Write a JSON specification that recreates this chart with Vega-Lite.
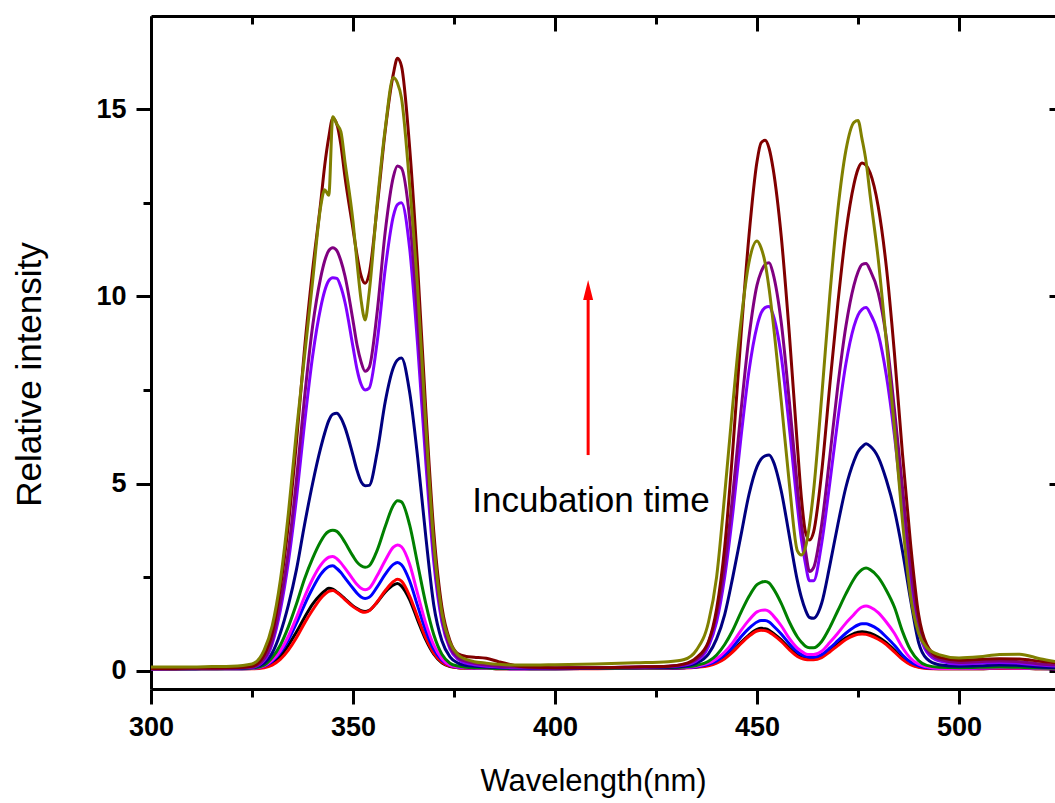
{
  "$schema": "https://vega.github.io/schema/vega-lite/v6.json",
  "width": 904,
  "height": 673,
  "autosize": {"type": "none"},
  "padding": {"left": 151, "top": 16, "right": 0, "bottom": 114},
  "background": "white",
  "config": {
    "view": {"stroke": null},
    "font": "Liberation Sans",
    "axis": {
      "domainColor": "black", "domainWidth": 3, "tickColor": "black", "tickWidth": 3,
      "grid": false, "labelFont": "Liberation Sans", "labelFontWeight": "bold",
      "labelFontSize": 27, "labelColor": "black", "titleFont": "Liberation Sans",
      "titleFontWeight": "normal", "titleColor": "black"
    }
  },
  "layer": [
    {
      "data": {"values": [
        {"w":300,"k":0.05,"r":0.04,"b":0.05,"m":0.05,"g":0.05,"n":0.05,"v":0.05,"p":0.05,"d":0.06,"o":0.1},
        {"w":305,"k":0.05,"r":0.04,"b":0.05,"m":0.05,"g":0.05,"n":0.05,"v":0.06,"p":0.06,"d":0.06,"o":0.1},
        {"w":310,"k":0.05,"r":0.05,"b":0.05,"m":0.05,"g":0.05,"n":0.05,"v":0.06,"p":0.06,"d":0.07,"o":0.1},
        {"w":315,"k":0.05,"r":0.05,"b":0.05,"m":0.05,"g":0.05,"n":0.06,"v":0.06,"p":0.06,"d":0.07,"o":0.11},
        {"w":320,"k":0.05,"r":0.05,"b":0.05,"m":0.06,"g":0.06,"n":0.06,"v":0.07,"p":0.07,"d":0.08,"o":0.12},
        {"w":325,"k":0.06,"r":0.05,"b":0.06,"m":0.06,"g":0.07,"n":0.08,"v":0.09,"p":0.1,"d":0.12,"o":0.18},
        {"w":328,"k":0.1,"r":0.08,"b":0.12,"m":0.13,"g":0.15,"n":0.2,"v":0.27,"p":0.32,"d":0.42,"o":0.55},
        {"w":330,"k":0.2,"r":0.15,"b":0.25,"m":0.28,"g":0.35,"n":0.47,"v":0.72,"p":0.82,"d":1.0,"o":1.2},
        {"w":332,"k":0.38,"r":0.3,"b":0.48,"m":0.53,"g":0.68,"n":1.0,"v":1.6,"p":1.8,"d":2.2,"o":2.4},
        {"w":334,"k":0.68,"r":0.55,"b":0.82,"m":0.92,"g":1.17,"n":1.75,"v":2.9,"p":3.2,"d":3.9,"o":4.2},
        {"w":336,"k":1.03,"r":0.88,"b":1.27,"m":1.42,"g":1.78,"n":2.7,"v":4.6,"p":5.1,"d":6.1,"o":6.4},
        {"w":338,"k":1.42,"r":1.27,"b":1.76,"m":1.97,"g":2.45,"n":3.9,"v":6.6,"p":7.3,"d":8.6,"o":8.4},
        {"w":340,"k":1.78,"r":1.62,"b":2.2,"m":2.45,"g":3.0,"n":5.0,"v":8.4,"p":9.2,"d":10.7,"o":10.4},
        {"w":342,"k":2.03,"r":1.93,"b":2.57,"m":2.82,"g":3.45,"n":5.95,"v":9.7,"p":10.5,"d":12.5,"o":12.4},
        {"w":343,"k":2.13,"r":2.04,"b":2.7,"m":2.95,"g":3.62,"n":6.35,"v":10.15,"p":10.95,"d":13.5,"o":12.85},
        {"w":344,"k":2.2,"r":2.12,"b":2.78,"m":3.03,"g":3.72,"n":6.68,"v":10.42,"p":11.22,"d":14.25,"o":12.7},
        {"w":345,"k":2.18,"r":2.14,"b":2.8,"m":3.05,"g":3.75,"n":6.85,"v":10.5,"p":11.3,"d":14.76,"o":14.8},
        {"w":346,"k":2.1,"r":2.09,"b":2.73,"m":2.99,"g":3.72,"n":6.88,"v":10.48,"p":11.22,"d":14.6,"o":14.6},
        {"w":347,"k":2.02,"r":2.0,"b":2.62,"m":2.88,"g":3.6,"n":6.75,"v":10.25,"p":10.95,"d":14.05,"o":14.4},
        {"w":348,"k":1.92,"r":1.9,"b":2.48,"m":2.74,"g":3.43,"n":6.5,"v":9.85,"p":10.55,"d":13.2,"o":13.6},
        {"w":350,"k":1.73,"r":1.71,"b":2.2,"m":2.44,"g":3.06,"n":5.75,"v":8.65,"p":9.35,"d":11.8,"o":12.0},
        {"w":351,"k":1.66,"r":1.64,"b":2.07,"m":2.3,"g":2.9,"n":5.35,"v":8.05,"p":8.7,"d":11.1,"o":10.9},
        {"w":352,"k":1.6,"r":1.58,"b":1.97,"m":2.2,"g":2.8,"n":5.05,"v":7.65,"p":8.25,"d":10.55,"o":9.9},
        {"w":353,"k":1.58,"r":1.56,"b":1.93,"m":2.16,"g":2.76,"n":4.94,"v":7.5,"p":8.0,"d":10.35,"o":9.37},
        {"w":354,"k":1.61,"r":1.6,"b":1.96,"m":2.2,"g":2.8,"n":4.95,"v":7.55,"p":8.1,"d":10.6,"o":10.1},
        {"w":356,"k":1.83,"r":1.84,"b":2.24,"m":2.54,"g":3.22,"n":5.85,"v":8.8,"p":9.6,"d":12.4,"o":12.5},
        {"w":358,"k":2.1,"r":2.14,"b":2.58,"m":2.95,"g":3.86,"n":7.2,"v":10.75,"p":11.75,"d":14.45,"o":14.5},
        {"w":360,"k":2.29,"r":2.38,"b":2.84,"m":3.3,"g":4.42,"n":8.1,"v":12.15,"p":13.2,"d":15.95,"o":15.85},
        {"w":361,"k":2.33,"r":2.44,"b":2.89,"m":3.36,"g":4.54,"n":8.3,"v":12.45,"p":13.48,"d":16.36,"o":15.7},
        {"w":362,"k":2.26,"r":2.39,"b":2.83,"m":3.31,"g":4.51,"n":8.35,"v":12.5,"p":13.42,"d":16.15,"o":15.3},
        {"w":364,"k":1.9,"r":2.0,"b":2.4,"m":2.85,"g":3.9,"n":7.45,"v":11.3,"p":12.1,"d":14.0,"o":13.0},
        {"w":366,"k":1.35,"r":1.43,"b":1.73,"m":2.05,"g":2.85,"n":5.7,"v":8.7,"p":9.4,"d":10.8,"o":10.2},
        {"w":368,"k":0.83,"r":0.88,"b":1.07,"m":1.27,"g":1.8,"n":3.6,"v":5.6,"p":6.1,"d":7.0,"o":6.6},
        {"w":370,"k":0.44,"r":0.47,"b":0.57,"m":0.68,"g":0.96,"n":1.75,"v":2.9,"p":3.2,"d":3.7,"o":3.4},
        {"w":372,"k":0.21,"r":0.23,"b":0.28,"m":0.32,"g":0.44,"n":0.8,"v":1.3,"p":1.45,"d":1.7,"o":1.55},
        {"w":374,"k":0.11,"r":0.12,"b":0.14,"m":0.15,"g":0.2,"n":0.37,"v":0.58,"p":0.65,"d":0.8,"o":0.75},
        {"w":376,"k":0.08,"r":0.08,"b":0.09,"m":0.1,"g":0.12,"n":0.2,"v":0.3,"p":0.35,"d":0.45,"o":0.42},
        {"w":378,"k":0.07,"r":0.07,"b":0.08,"m":0.08,"g":0.09,"n":0.14,"v":0.2,"p":0.25,"d":0.38,"o":0.3},
        {"w":380,"k":0.06,"r":0.06,"b":0.07,"m":0.07,"g":0.08,"n":0.12,"v":0.16,"p":0.2,"d":0.36,"o":0.24},
        {"w":383,"k":0.06,"r":0.06,"b":0.06,"m":0.06,"g":0.07,"n":0.1,"v":0.12,"p":0.15,"d":0.33,"o":0.2},
        {"w":386,"k":0.05,"r":0.05,"b":0.06,"m":0.06,"g":0.06,"n":0.08,"v":0.1,"p":0.12,"d":0.24,"o":0.17},
        {"w":390,"k":0.05,"r":0.05,"b":0.05,"m":0.05,"g":0.06,"n":0.07,"v":0.08,"p":0.1,"d":0.14,"o":0.15},
        {"w":395,"k":0.05,"r":0.05,"b":0.05,"m":0.05,"g":0.05,"n":0.06,"v":0.07,"p":0.08,"d":0.09,"o":0.15},
        {"w":400,"k":0.05,"r":0.05,"b":0.05,"m":0.05,"g":0.05,"n":0.06,"v":0.07,"p":0.07,"d":0.08,"o":0.16},
        {"w":410,"k":0.06,"r":0.05,"b":0.06,"m":0.06,"g":0.06,"n":0.07,"v":0.08,"p":0.08,"d":0.08,"o":0.18},
        {"w":420,"k":0.06,"r":0.06,"b":0.07,"m":0.07,"g":0.07,"n":0.08,"v":0.09,"p":0.1,"d":0.1,"o":0.21},
        {"w":428,"k":0.07,"r":0.06,"b":0.07,"m":0.08,"g":0.08,"n":0.09,"v":0.11,"p":0.12,"d":0.12,"o":0.24},
        {"w":432,"k":0.08,"r":0.07,"b":0.08,"m":0.09,"g":0.1,"n":0.12,"v":0.15,"p":0.17,"d":0.18,"o":0.3},
        {"w":435,"k":0.1,"r":0.09,"b":0.1,"m":0.12,"g":0.14,"n":0.2,"v":0.26,"p":0.3,"d":0.35,"o":0.55},
        {"w":438,"k":0.15,"r":0.13,"b":0.17,"m":0.2,"g":0.25,"n":0.45,"v":0.65,"p":0.75,"d":0.78,"o":1.3},
        {"w":440,"k":0.22,"r":0.2,"b":0.26,"m":0.32,"g":0.42,"n":0.85,"v":1.3,"p":1.5,"d":1.65,"o":2.5},
        {"w":442,"k":0.35,"r":0.32,"b":0.42,"m":0.5,"g":0.7,"n":1.5,"v":2.5,"p":2.8,"d":3.3,"o":4.7},
        {"w":444,"k":0.52,"r":0.5,"b":0.63,"m":0.75,"g":1.08,"n":2.5,"v":4.2,"p":4.7,"d":5.9,"o":7.1},
        {"w":446,"k":0.75,"r":0.72,"b":0.9,"m":1.07,"g":1.55,"n":3.6,"v":6.2,"p":6.9,"d":8.9,"o":9.3},
        {"w":448,"k":0.95,"r":0.92,"b":1.13,"m":1.35,"g":1.98,"n":4.7,"v":8.0,"p":8.9,"d":11.6,"o":10.9},
        {"w":450,"k":1.1,"r":1.06,"b":1.3,"m":1.57,"g":2.3,"n":5.45,"v":9.2,"p":10.3,"d":13.6,"o":11.48},
        {"w":451,"k":1.13,"r":1.08,"b":1.34,"m":1.61,"g":2.36,"n":5.65,"v":9.55,"p":10.65,"d":14.1,"o":11.3},
        {"w":452,"k":1.12,"r":1.07,"b":1.34,"m":1.62,"g":2.38,"n":5.74,"v":9.7,"p":10.85,"d":14.17,"o":10.9},
        {"w":453,"k":1.08,"r":1.03,"b":1.3,"m":1.58,"g":2.34,"n":5.76,"v":9.73,"p":10.9,"d":13.95,"o":10.2},
        {"w":454,"k":1.0,"r":0.96,"b":1.2,"m":1.47,"g":2.2,"n":5.6,"v":9.5,"p":10.6,"d":13.4,"o":9.3},
        {"w":456,"k":0.82,"r":0.78,"b":0.98,"m":1.2,"g":1.8,"n":4.8,"v":8.4,"p":9.3,"d":11.6,"o":7.2},
        {"w":458,"k":0.6,"r":0.56,"b":0.72,"m":0.86,"g":1.3,"n":3.6,"v":6.5,"p":7.2,"d":9.0,"o":5.0},
        {"w":460,"k":0.42,"r":0.38,"b":0.5,"m":0.6,"g":0.9,"n":2.4,"v":4.4,"p":4.9,"d":6.0,"o":3.2},
        {"w":461,"k":0.37,"r":0.33,"b":0.43,"m":0.52,"g":0.76,"n":1.95,"v":3.5,"p":3.9,"d":4.6,"o":3.09},
        {"w":462,"k":0.34,"r":0.3,"b":0.38,"m":0.45,"g":0.65,"n":1.62,"v":2.85,"p":3.2,"d":3.7,"o":3.3},
        {"w":463,"k":0.33,"r":0.29,"b":0.36,"m":0.43,"g":0.61,"n":1.42,"v":2.4,"p":2.65,"d":3.49,"o":3.9},
        {"w":464,"k":0.34,"r":0.29,"b":0.36,"m":0.43,"g":0.61,"n":1.4,"v":2.4,"p":2.75,"d":3.7,"o":4.8},
        {"w":466,"k":0.4,"r":0.35,"b":0.43,"m":0.52,"g":0.78,"n":1.8,"v":3.4,"p":3.9,"d":5.3,"o":7.3},
        {"w":468,"k":0.55,"r":0.5,"b":0.6,"m":0.75,"g":1.15,"n":2.8,"v":5.0,"p":5.7,"d":7.6,"o":10.0},
        {"w":470,"k":0.72,"r":0.67,"b":0.8,"m":1.0,"g":1.6,"n":3.9,"v":6.7,"p":7.6,"d":9.8,"o":12.3},
        {"w":472,"k":0.88,"r":0.83,"b":1.0,"m":1.27,"g":2.05,"n":4.9,"v":8.2,"p":9.2,"d":11.7,"o":13.9},
        {"w":474,"k":0.99,"r":0.94,"b":1.16,"m":1.5,"g":2.45,"n":5.6,"v":9.2,"p":10.3,"d":13.0,"o":14.65},
        {"w":475,"k":1.03,"r":0.97,"b":1.22,"m":1.62,"g":2.6,"n":5.85,"v":9.5,"p":10.65,"d":13.4,"o":14.7},
        {"w":476,"k":1.04,"r":0.98,"b":1.25,"m":1.7,"g":2.7,"n":5.98,"v":9.65,"p":10.85,"d":13.56,"o":14.2},
        {"w":477,"k":1.03,"r":0.97,"b":1.25,"m":1.73,"g":2.74,"n":6.06,"v":9.7,"p":10.88,"d":13.5,"o":13.6},
        {"w":478,"k":1.0,"r":0.94,"b":1.22,"m":1.7,"g":2.7,"n":6.0,"v":9.55,"p":10.7,"d":13.3,"o":12.7},
        {"w":480,"k":0.9,"r":0.84,"b":1.1,"m":1.55,"g":2.5,"n":5.7,"v":9.0,"p":10.1,"d":12.4,"o":11.0},
        {"w":482,"k":0.75,"r":0.7,"b":0.9,"m":1.3,"g":2.15,"n":5.1,"v":7.9,"p":8.9,"d":10.8,"o":8.8},
        {"w":484,"k":0.55,"r":0.5,"b":0.68,"m":1.0,"g":1.7,"n":4.3,"v":6.3,"p":7.0,"d":8.5,"o":6.5},
        {"w":486,"k":0.33,"r":0.3,"b":0.42,"m":0.62,"g":1.05,"n":3.2,"v":4.3,"p":4.9,"d":5.8,"o":4.0},
        {"w":488,"k":0.18,"r":0.16,"b":0.23,"m":0.33,"g":0.55,"n":1.9,"v":2.4,"p":2.8,"d":3.4,"o":2.0},
        {"w":490,"k":0.1,"r":0.09,"b":0.13,"m":0.17,"g":0.27,"n":0.75,"v":1.1,"p":1.3,"d":1.5,"o":1.0},
        {"w":492,"k":0.07,"r":0.06,"b":0.08,"m":0.1,"g":0.14,"n":0.32,"v":0.5,"p":0.58,"d":0.7,"o":0.62},
        {"w":495,"k":0.05,"r":0.05,"b":0.06,"m":0.06,"g":0.09,"n":0.16,"v":0.26,"p":0.31,"d":0.36,"o":0.43},
        {"w":500,"k":0.05,"r":0.05,"b":0.06,"m":0.06,"g":0.08,"n":0.12,"v":0.18,"p":0.22,"d":0.28,"o":0.34},
        {"w":505,"k":0.05,"r":0.05,"b":0.07,"m":0.07,"g":0.09,"n":0.13,"v":0.2,"p":0.24,"d":0.3,"o":0.37},
        {"w":510,"k":0.06,"r":0.06,"b":0.08,"m":0.08,"g":0.1,"n":0.15,"v":0.22,"p":0.26,"d":0.32,"o":0.43},
        {"w":515,"k":0.06,"r":0.06,"b":0.08,"m":0.07,"g":0.09,"n":0.14,"v":0.2,"p":0.24,"d":0.31,"o":0.44},
        {"w":520,"k":0.05,"r":0.05,"b":0.06,"m":0.06,"g":0.07,"n":0.1,"v":0.15,"p":0.18,"d":0.25,"o":0.32},
        {"w":525,"k":0.05,"r":0.05,"b":0.05,"m":0.05,"g":0.06,"n":0.08,"v":0.12,"p":0.15,"d":0.2,"o":0.22}
      ]},
      "transform": [{"fold": ["k","r","b","m","g","n","v","p","d","o"], "as": ["s","value"]}],
      "mark": {"type": "line", "strokeWidth": 3, "clip": true, "strokeJoin": "round", "interpolate": "monotone"},
      "encoding": {
        "x": {"field": "w", "type": "quantitative",
          "scale": {"domain": [300, 523.76], "nice": false, "zero": false},
          "axis": {"orient": "bottom", "values": [300,325,350,375,400,425,450,475,500],
            "labelExpr": "datum.value % 50 == 0 ? datum.label : ''",
            "tickSize": {"condition": {"test": "datum.value % 50 != 0", "value": 8}, "value": 15},
            "labelPadding": 10, "labelFlush": false, "labelOverlap": false,
            "labelFontSize": 27, "labelFontWeight": "bold",
            "title": "Wavelength(nm)", "titleFontSize": 31, "titleX": 442, "titleY": 101,
            "titleBaseline": "alphabetic", "titleAlign": "center"}},
        "y": {"field": "value", "type": "quantitative",
          "scale": {"domain": [-0.49, 17.49], "nice": false, "zero": false},
          "axis": {"orient": "left", "values": [0,2.5,5,7.5,10,12.5,15],
            "labelExpr": "datum.value % 5 == 0 ? datum.label : ''",
            "tickSize": {"condition": {"test": "datum.value % 5 != 0", "value": 8}, "value": 15},
            "labelPadding": 10, "labelFlush": false, "labelOverlap": false,
            "labelFontSize": 27, "labelFontWeight": "bold",
            "title": "Relative intensity", "titleFontSize": 35, "titleX": -111, "titleY": 358,
            "titleAngle": -90, "titleBaseline": "alphabetic", "titleAlign": "center"}},
        "color": {"field": "s", "type": "nominal",
          "scale": {"domain": ["k","r","b","m","g","n","v","p","d","o"],
            "range": ["#000000","#ff0000","#0000ff","#ff00ff","#008000","#000080","#8000ff","#800080","#800000","#808000"]},
          "legend": null}
      }
    },
    {
      "data": {"values": [{"x": 408.2, "y": 5.76, "y2": 10.05}]},
      "mark": {"type": "rule", "color": "#ff0000", "strokeWidth": 3},
      "encoding": {
        "x": {"field": "x", "type": "quantitative",
          "scale": {"domain": [300, 523.76], "nice": false, "zero": false},
          "axis": {"orient": "top", "values": [300,325,350,375,400,425,450,475,500], "labels": false,
            "tickSize": {"condition": {"test": "datum.value % 50 != 0", "value": -8}, "value": -15},
            "title": null}},
        "y": {"field": "y", "type": "quantitative",
          "scale": {"domain": [-0.49, 17.49], "nice": false, "zero": false},
          "axis": {"orient": "right", "values": [0,5,10,15], "labels": false, "domain": false,
            "tickSize": -6, "title": null}},
        "y2": {"field": "y2"}
      }
    },
    {
      "data": {"values": [{"x": 408.2, "y": 10.17}]},
      "mark": {"type": "point", "shape": "M0,-1L0.5,1L-0.5,1Z", "size": 400, "filled": true, "color": "#ff0000", "opacity": 1},
      "encoding": {
        "x": {"field": "x", "type": "quantitative", "scale": {"domain": [300, 523.76], "nice": false, "zero": false}, "axis": null},
        "y": {"field": "y", "type": "quantitative", "scale": {"domain": [-0.49, 17.49], "nice": false, "zero": false}, "axis": null}
      }
    },
    {
      "data": {"values": [{"x": 408.9, "y": 4.25, "t": "Incubation time"}]},
      "mark": {"type": "text", "fontSize": 35, "font": "Liberation Sans", "align": "center", "baseline": "alphabetic", "color": "black"},
      "encoding": {
        "x": {"field": "x", "type": "quantitative", "scale": {"domain": [300, 523.76], "nice": false, "zero": false}, "axis": null},
        "y": {"field": "y", "type": "quantitative", "scale": {"domain": [-0.49, 17.49], "nice": false, "zero": false}, "axis": null},
        "text": {"field": "t"}
      }
    }
  ]
}
